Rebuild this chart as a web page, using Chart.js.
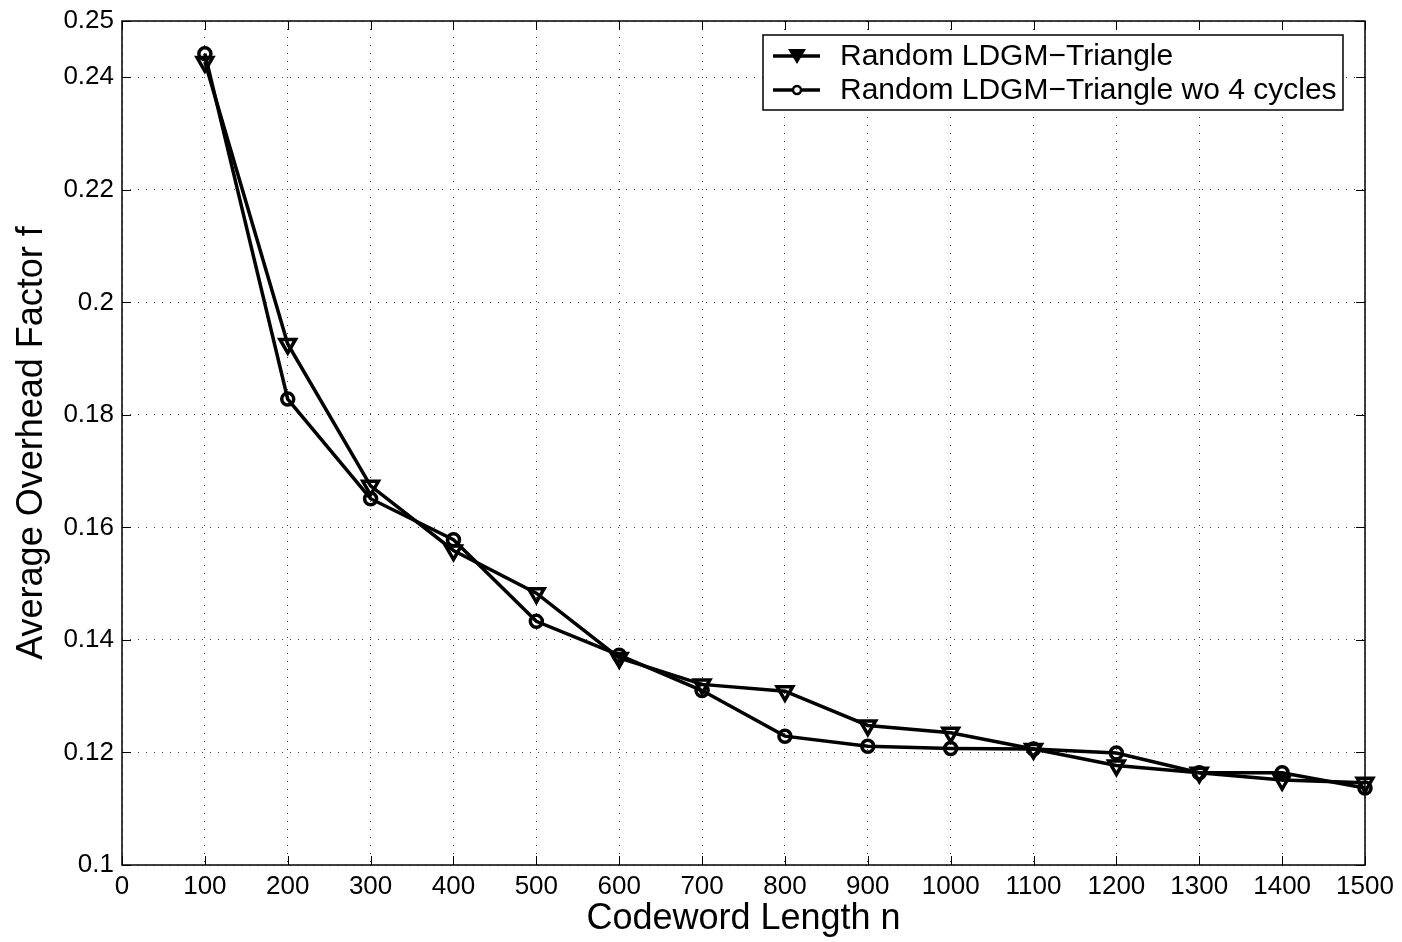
<!DOCTYPE html>
<html>
<head>
<meta charset="utf-8">
<script src="https://cdn.jsdelivr.net/npm/chart.js@4.4.1/dist/chart.umd.min.js"></script>
<style>
  html, body { margin: 0; padding: 0; background: #fff; }
  #wrap { width: 1402px; height: 942px; }
</style>
</head>
<body>
<div id="wrap"><canvas id="chart" width="1402" height="942"></canvas></div>
<script>
const codewordLengths = [100, 200, 300, 400, 500, 600, 700, 800, 900, 1000, 1100, 1200, 1300, 1400, 1500];
const ldgmTriangle = [0.2427, 0.1926, 0.1674, 0.1559, 0.1483, 0.1368, 0.1321, 0.1309, 0.1248, 0.1235, 0.1206, 0.1177, 0.1164, 0.1151, 0.1146];
const ldgmNo4Cycles = [0.2442, 0.1828, 0.1651, 0.1578, 0.1433, 0.1373, 0.1310, 0.1229, 0.1211, 0.1207, 0.1206, 0.1199, 0.1164, 0.1164, 0.1137];
const yTicks = [0.1, 0.12, 0.14, 0.16, 0.18, 0.2, 0.22, 0.24, 0.25];
const seriesLabels = ['Random LDGM\u2212Triangle', 'Random LDGM\u2212Triangle wo 4 cycles'];

const FONT = '"Liberation Sans", Arial, Helvetica, sans-serif';

function toPoints(vals) {
  return codewordLengths.map((n, i) => ({ x: n, y: vals[i] }));
}

// MATLAB style: box round the axes, inward ticks on all four sides, boxed legend
const boxPlugin = {
  id: 'boxTicks',
  afterDraw(chart) {
    const { ctx, chartArea: a, scales } = chart;
    ctx.save();
    ctx.strokeStyle = '#000';
    ctx.lineWidth = 1.5;
    ctx.strokeRect(a.left, a.top, a.right - a.left, a.bottom - a.top);
    const len = 9;
    ctx.lineWidth = 1;
    ctx.beginPath();
    scales.x.ticks.forEach(t => {
      const px = Math.round(scales.x.getPixelForValue(t.value)) + 0.5;
      ctx.moveTo(px, a.bottom); ctx.lineTo(px, a.bottom - len);
      ctx.moveTo(px, a.top); ctx.lineTo(px, a.top + len);
    });
    scales.y.ticks.forEach(t => {
      const py = Math.round(scales.y.getPixelForValue(t.value)) + 0.5;
      ctx.moveTo(a.left, py); ctx.lineTo(a.left + len, py);
      ctx.moveTo(a.right, py); ctx.lineTo(a.right - len, py);
    });
    ctx.stroke();

    // legend
    const lx = 763, ly = 35, lw = 580, lh = 75;
    ctx.fillStyle = '#fff';
    ctx.fillRect(lx, ly, lw, lh);
    ctx.strokeStyle = '#000';
    ctx.lineWidth = 1.5;
    ctx.strokeRect(lx, ly, lw, lh);
    chart.data.datasets.forEach((ds, i) => {
      const cy = ly + 21 + i * 34;
      ctx.strokeStyle = '#000';
      ctx.lineWidth = 3.5;
      ctx.beginPath();
      ctx.moveTo(773, cy); ctx.lineTo(820, cy);
      ctx.stroke();
      ctx.lineWidth = 2.5;
      if (ds.pointStyle === 'triangle') {
        ctx.fillStyle = '#000';
        ctx.beginPath();
        ctx.moveTo(788, cy - 7); ctx.lineTo(806, cy - 7); ctx.lineTo(797, cy + 8);
        ctx.closePath();
        ctx.fill();
      } else {
        ctx.fillStyle = '#fff';
        ctx.beginPath();
        ctx.arc(797, cy, 4, 0, Math.PI * 2);
        ctx.fill();
        ctx.stroke();
      }
      ctx.fillStyle = '#000';
      ctx.font = '30px ' + FONT;
      ctx.textBaseline = 'middle';
      ctx.fillText(ds.label, 840, cy + 1);
    });
    ctx.restore();
  }
};

new Chart(document.getElementById('chart'), {
  type: 'line',
  data: {
    datasets: [
      {
        label: seriesLabels[0],
        data: toPoints(ldgmTriangle),
        borderColor: '#000',
        borderWidth: 3.5,
        pointStyle: 'triangle',
        rotation: 180,
        pointRadius: 9,
        pointBorderWidth: 3.5,
        pointBackgroundColor: 'rgba(0,0,0,0)',
        pointBorderColor: '#000',
        tension: 0,
        clip: false,
      },
      {
        label: seriesLabels[1],
        data: toPoints(ldgmNo4Cycles),
        borderColor: '#000',
        borderWidth: 3.5,
        pointStyle: 'circle',
        pointRadius: 6,
        pointBorderWidth: 3.5,
        pointBackgroundColor: 'rgba(0,0,0,0)',
        pointBorderColor: '#000',
        tension: 0,
        clip: false,
      },
    ],
  },
  options: {
    responsive: false,
    animation: false,
    layout: { padding: { top: 12, right: 37, left: 0, bottom: 0 } },
    plugins: {
      legend: { display: false },
      tooltip: { enabled: false },
    },
    scales: {
      x: {
        type: 'linear',
        min: 0,
        max: 1500,
        ticks: {
          stepSize: 100,
          color: '#000',
          padding: 6,
          maxRotation: 0,
          autoSkip: false,
          font: { family: FONT, size: 26 },
          callback: v => String(v),
        },
        grid: { color: '#444', lineWidth: 1, drawTicks: false },
        border: { display: false, dash: [1, 7] },
        title: {
          display: true,
          text: 'Codeword Length n',
          color: '#000',
          font: { family: FONT, size: 36 },
          padding: { top: 0, bottom: 1 },
        },
        afterFit(scale) { scale.height = 77; },
      },
      y: {
        type: 'linear',
        min: 0.1,
        max: 0.25,
        afterBuildTicks(scale) {
          scale.ticks = yTicks.map(v => ({ value: v }));
        },
        ticks: {
          color: '#000',
          padding: 8,
          font: { family: FONT, size: 26, lineHeight: 1 },
          callback: v => String(parseFloat(Number(v).toFixed(2))),
        },
        grid: { color: '#444', lineWidth: 1, drawTicks: false },
        border: { display: false, dash: [1, 7] },
        title: {
          display: true,
          text: 'Average Overhead Factor f',
          color: '#000',
          font: { family: FONT, size: 36 },
          padding: { top: 10, bottom: 0 },
        },
        afterFit(scale) { scale.width = 122; },
      },
    },
  },
  plugins: [boxPlugin],
});
</script>
</body>
</html>
